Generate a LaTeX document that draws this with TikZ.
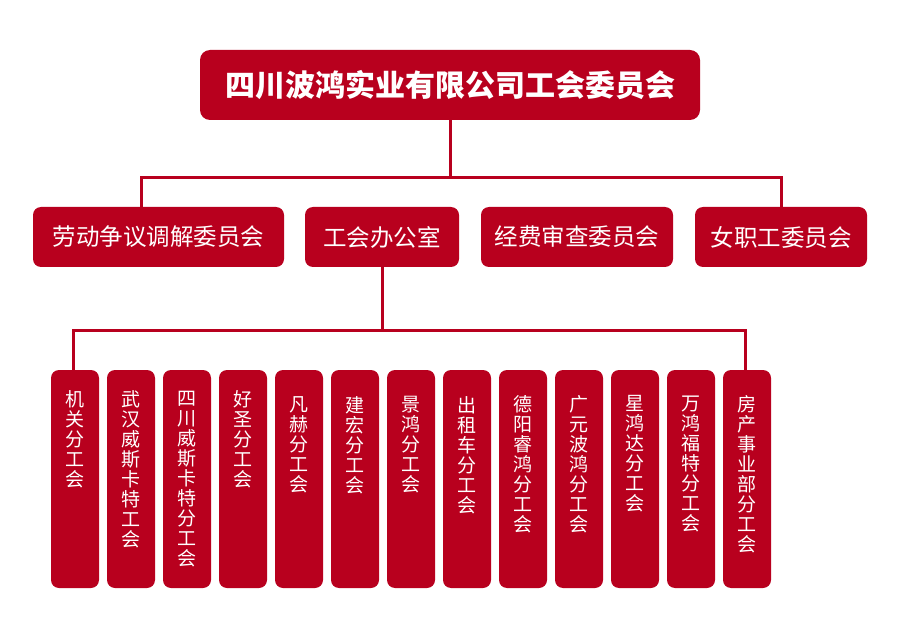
\documentclass[tikz,border=0pt]{standalone}
\usepackage{fontspec}
\newfontfamily\cjk{Noto Sans CJK SC}
\usetikzlibrary{calc}
\definecolor{unionred}{RGB}{184,0,30}
\tikzset{
  box/.style={fill=unionred, rounded corners=8pt, inner sep=0pt, text=white, font=\cjk\fontsize{23.5}{26}\selectfont},
  topbox/.style={box, rounded corners=10pt, font=\cjk\bfseries\fontsize{30}{32}\selectfont},
  branch/.style={box, minimum width=48pt, minimum height=218pt},
  vlabel/.style={anchor=north, inner sep=0pt, text=white, align=center, font=\cjk\fontsize{19}{20}\selectfont},
  link/.style={draw=unionred, line width=3pt}
}
\begin{document}
\begin{tikzpicture}[x=1pt, y=-1pt]
		\useasboundingbox (0,0) rectangle (900,639);
		
		%%%%% TOP %%%%%
		\node[topbox, minimum width=500pt, minimum height=70pt] (top) at (450,85) {四川波鸿实业有限公司工会委员会};
		
		\node[box, minimum width=251pt, minimum height=60pt] (labour) at (158.5,237) {劳动争议调解委员会};
		\node[box, minimum width=154pt, minimum height=60pt] (office) at (382,237) {工会办公室};
		\node[box, minimum width=192pt, minimum height=60pt] (audit) at (577,237) {经费审查委员会};
		\node[box, minimum width=172pt, minimum height=60pt] (women) at (781,237) {女职工委员会};
		
		\coordinate (bar1) at (450,178);
		\draw[link] (top.south) -- (bar1);
		\draw[link] ([xshift=-17pt]labour.north) |- (bar1) -| (women.north);
		
		%%%%% BRANCHES %%%%%
		\node[branch] (b1) at (75,479) {};
		\node[branch] (b2) at (131,479) {};
		\node[branch] (b3) at (187,479) {};
		\node[branch] (b4) at (243,479) {};
		\node[branch] (b5) at (299,479) {};
		\node[branch] (b6) at (355,479) {};
		\node[branch] (b7) at (411,479) {};
		\node[branch] (b8) at (467,479) {};
		\node[branch] (b9) at (523,479) {};
		\node[branch] (b10) at (579,479) {};
		\node[branch] (b11) at (635,479) {};
		\node[branch] (b12) at (691,479) {};
		\node[branch] (b13) at (747,479) {};
		
		\node[vlabel] (t1) at ([yshift=-21pt]b1.north) {机\\关\\分\\工\\会};
		\node[vlabel] (t2) at ([yshift=-21pt]b2.north) {武\\汉\\威\\斯\\卡\\特\\工\\会};
		\node[vlabel] (t3) at ([yshift=-21pt]b3.north) {四\\川\\威\\斯\\卡\\特\\分\\工\\会};
		\node[vlabel] (t4) at ([yshift=-21pt]b4.north) {好\\圣\\分\\工\\会};
		\node[vlabel] (t5) at ([yshift=-27pt]b5.north) {凡\\赫\\分\\工\\会};
		\node[vlabel] (t6) at ([yshift=-27pt]b6.north) {建\\宏\\分\\工\\会};
		\node[vlabel] (t7) at ([yshift=-26pt]b7.north) {景\\鸿\\分\\工\\会};
		\node[vlabel] (t8) at ([yshift=-27pt]b8.north) {出\\租\\车\\分\\工\\会};
		\node[vlabel] (t9) at ([yshift=-25pt]b9.north) {德\\阳\\睿\\鸿\\分\\工\\会};
		\node[vlabel] (t10) at ([yshift=-26pt]b10.north) {广\\元\\波\\鸿\\分\\工\\会};
		\node[vlabel] (t11) at ([yshift=-25pt]b11.north) {星\\鸿\\达\\分\\工\\会};
		\node[vlabel] (t12) at ([yshift=-26pt]b12.north) {万\\鸿\\福\\特\\分\\工\\会};
		\node[vlabel] (t13) at ([yshift=-26pt]b13.north) {房\\产\\事\\业\\部\\分\\工\\会};
		
		\coordinate (bar2) at (382,330);
		\draw[link] (office.south) -- (bar2);
		\draw[link] ([xshift=-2pt]b1.north) |- (bar2) -| ([xshift=-2pt]b13.north);
		
\end{tikzpicture}
\end{document}
